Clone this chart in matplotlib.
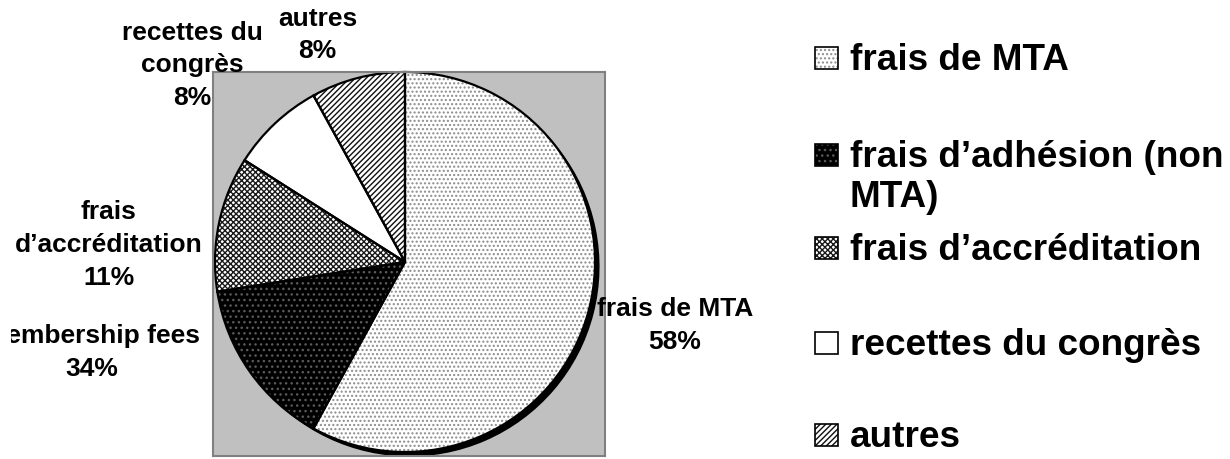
import matplotlib
matplotlib.use('Agg')
import matplotlib.pyplot as plt
from matplotlib.patches import Rectangle
from matplotlib.transforms import Bbox

# ---------------- data ----------------
legend_labels = ['frais de MTA', 'frais d’adhésion (non\nMTA)', 'frais d’accréditation',
                 'recettes du congrès', 'autres']
slice_names = ['frais de MTA', 'membership fees', 'frais\nd’accréditation',
               'recettes du\ncongrès', 'autres']
shares = [58, 14.5, 11.5, 8, 8]          # slice sizes as drawn
pct_labels = ['58%', '34%', '11%', '8%', '8%']  # label texts as printed

# ---------------- styles ----------------
face_colors = ['white', 'black', 'white', 'white', 'white']
hatch_colors = ['#8c8c8c', '#5a5a5a', '#1a1a1a', 'white', '#101010']
hatches = ['....', '...', 'xxxxxx', '', '//////']

plt.rcParams['font.family'] = ['Liberation Sans', 'DejaVu Sans']
plt.rcParams['hatch.linewidth'] = 1.0

W, H = 1230, 460
fig = plt.figure(figsize=(W / 100, H / 100), dpi=100)
fig.patch.set_facecolor('white')

# plot area (grey square) in pixel layout
L, R, T, B = 213, 605, 73, 457
cx, cy, rad = 405, 263, 190
ax = fig.add_axes([L / W, 1 - B / H, (R - L) / W, (B - T) / H])

# shadow
ax.pie(shares, startangle=90, counterclock=False, center=(0.024, -0.024),
       colors=['black'] * len(shares), wedgeprops=dict(linewidth=0))
# patterned fills
wedges, _ = ax.pie(shares, startangle=90, counterclock=False,
                   colors=face_colors, wedgeprops=dict(linewidth=0))
for w, hc, h in zip(wedges, hatch_colors, hatches):
    w.set_edgecolor(hc)
    w.set_linewidth(0)
    w.set_hatch(h)
# outlines
outl, _ = ax.pie(shares, startangle=90, counterclock=False,
                 colors=['none'] * len(shares),
                 wedgeprops=dict(linewidth=1.6, edgecolor='black'))

ax.set_xlim((L - cx) / rad, (R - cx) / rad)
ax.set_ylim((cy - B) / rad, (cy - T) / rad)
ax.set_aspect('auto')
ax.set_frame_on(True)
ax.set_facecolor('#c0c0c0')
for sp in ax.spines.values():
    sp.set_edgecolor('#808080')
    sp.set_linewidth(1.5)
ax.set_xticks([])
ax.set_yticks([])

# data labels (layout positions in radius units)
label_xy = [(1.42, -0.33), (-1.65, -0.47), (-1.56, 0.095), (-1.12, 1.04), (-0.46, 1.20)]
clip = Bbox.from_extents(11, 0, W, H)
for (x, y), name, pct in zip(label_xy, slice_names, pct_labels):
    t = ax.text(x, y, f'{name}\n{pct}', ha='center', va='center', fontsize=19,
                fontweight='bold', linespacing=1.45)
    t.set_clip_box(clip)
    t.set_clip_on(True)

# legend drawn in a pixel-coordinate overlay
lax = fig.add_axes([0, 0, 1, 1])
lax.set_xlim(0, W)
lax.set_ylim(H, 0)
lax.axis('off')
lax.patch.set_alpha(0)
baselines = [70, 167, 260, 355, 447]
line_step = 40
for yb, lab, fc, hc, h in zip(baselines, legend_labels, face_colors, hatch_colors, hatches):
    lax.add_patch(Rectangle((815, yb - 22), 23, 22, facecolor=fc, edgecolor=hc,
                            linewidth=0, hatch=h))
    lax.add_patch(Rectangle((815, yb - 22), 23, 22, facecolor='none',
                            edgecolor='black', linewidth=1.2))
    for k, line in enumerate(lab.split('\n')):
        lax.text(850, yb + k * line_step, line, ha='left', va='baseline',
                 fontsize=26.6, fontweight='bold')

fig.savefig('out.png', dpi=100)
